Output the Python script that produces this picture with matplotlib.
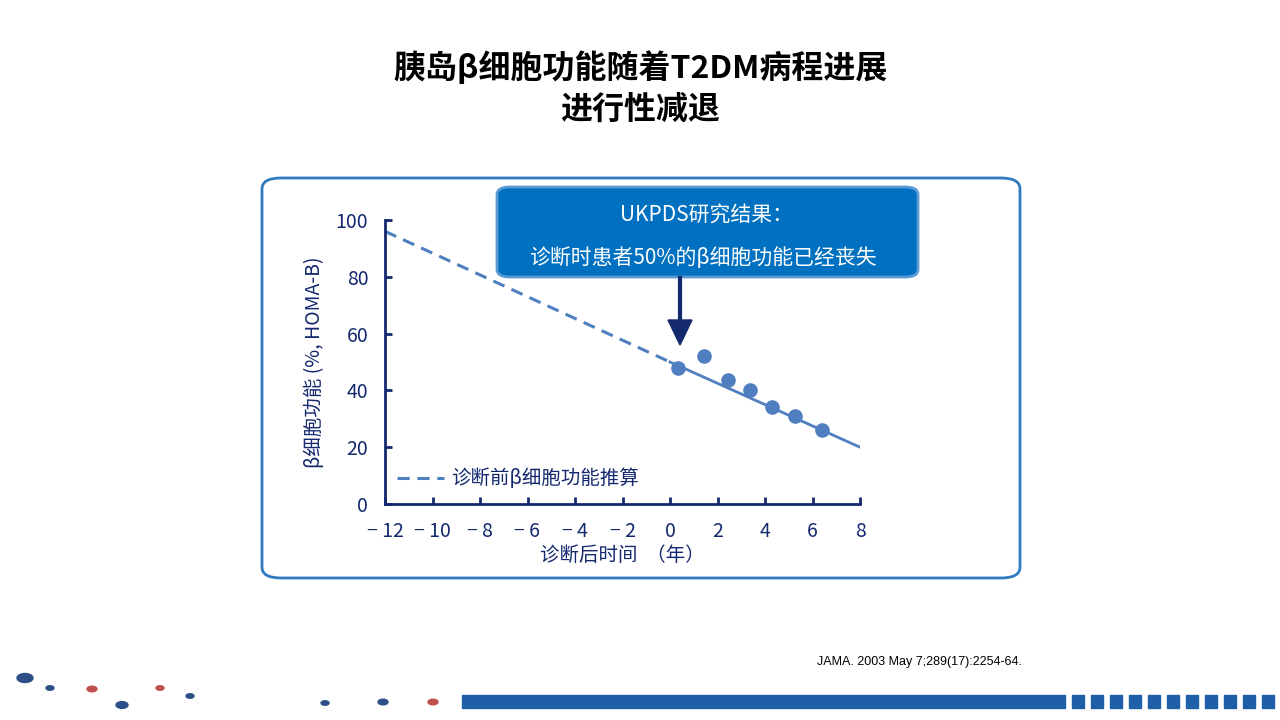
import matplotlib.pyplot as plt
from matplotlib.patches import FancyBboxPatch, Circle, Rectangle

plt.rcParams["font.family"] = ["Noto Sans CJK SC", "DejaVu Sans"]

# data
years = [0.35, 1.45, 2.45, 3.35, 4.3, 5.25, 6.4]
beta_func = [48, 52, 43.5, 40, 34, 31, 26]
fit_x = [0, 8]
fit_y = [50, 20]
pre_x = [-12, 0]
pre_y = [96, 50]
xticks = [-12, -10, -8, -6, -4, -2, 0, 2, 4, 6, 8]
yticks = [0, 20, 40, 60, 80, 100]

NAVY = "#14286e"
PT = "#4f7fbf"

fig = plt.figure(figsize=(12.8, 7.2), dpi=100)
W, H = 1280, 720
def fx(x): return x / W
def fy(y): return 1 - y / H

fig.text(0.5, fy(68), "胰岛β细胞功能随着T2DM病程进展", ha="center", va="center",
         fontsize=23, fontweight="bold")
fig.text(0.5, fy(110), "进行性减退", ha="center", va="center",
         fontsize=23, fontweight="bold")

# outer frame
fig.patches.append(FancyBboxPatch((fx(262), fy(578)), fx(758), 400 / H,
                                  boxstyle="round,pad=0,rounding_size=0.015",
                                  transform=fig.transFigure, fill=False,
                                  edgecolor="#2f7bc0", linewidth=2))

ax = fig.add_axes([fx(385), fy(504), fx(475), 284 / H])
ax.set_xlim(-12, 8)
ax.set_ylim(0, 100)
ax.plot(pre_x, pre_y, linestyle="--", color=PT, linewidth=2.2, dashes=(4, 2.5))
ax.plot(fit_x, fit_y, color=PT, linewidth=2)
ax.scatter(years, beta_func, s=90, color=PT, zorder=3)
ax.set_xticks(xticks)
ax.set_xticklabels([("− " + str(-t)) if t < 0 else str(t) for t in xticks])
ax.set_yticks(yticks)
for s in ["top", "right"]:
    ax.spines[s].set_visible(False)
for s in ["left", "bottom"]:
    ax.spines[s].set_color(NAVY)
    ax.spines[s].set_linewidth(2)
ax.tick_params(colors=NAVY, labelsize=14, width=2, length=5, direction="in", pad=12)
ax.set_xlabel("诊断后时间  （年）", fontsize=14, color=NAVY, labelpad=2)
ax.set_ylabel("β细胞功能 (%, HOMA-B)", fontsize=14, color=NAVY, labelpad=8)
ax.plot([-11.5, -9.5], [9, 9], linestyle="--", color=PT, linewidth=2.2, dashes=(4, 2.5))
ax.text(-9.2, 9, "诊断前β细胞功能推算", fontsize=14, color=NAVY, va="center")

# callout
fig.patches.append(FancyBboxPatch((fx(497), fy(277)), fx(421), 90 / H,
                                  boxstyle="round,pad=0,rounding_size=0.01",
                                  transform=fig.transFigure, facecolor="#0070c0",
                                  edgecolor="#5b9bd5", linewidth=2))
fig.text(fx(707), fy(215), "UKPDS研究结果：", ha="center", va="center",
         fontsize=15, color="white")
fig.text(fx(703), fy(258), "诊断时患者50%的β细胞功能已经丧失", ha="center", va="center",
         fontsize=15, color="white")
fig.add_artist(plt.Line2D([fx(680), fx(680)], [fy(278), fy(325)], color=NAVY,
                          linewidth=3, transform=fig.transFigure))
fig.patches.append(plt.Polygon([[fx(668), fy(320)], [fx(692), fy(320)], [fx(680), fy(345)]],
                               closed=True, transform=fig.transFigure, color=NAVY))

fig.text(fx(817), fy(662), "JAMA. 2003 May 7;289(17):2254-64.", fontsize=9,
         va="center", family="Liberation Sans")

# footer decorations
dots = [(25, 678, 8, "#2b4f86"), (50, 688, 4, "#2b4f86"), (92, 689, 5, "#c0504d"),
        (122, 705, 6, "#2b4f86"), (160, 688, 4, "#c0504d"), (190, 696, 4, "#2b4f86"),
        (325, 703, 4, "#2b4f86"), (383, 702, 5, "#2b4f86"), (433, 702, 5, "#c0504d")]
for x, y, r, c in dots:
    fig.patches.append(Circle((fx(x), fy(y)), r / W, transform=fig.transFigure, color=c))
fig.patches.append(Rectangle((fx(462), fy(708)), fx(603), 13 / H,
                             transform=fig.transFigure, color="#1f5fa8"))
x0 = 1072
while x0 < 1280:
    fig.patches.append(Rectangle((fx(x0), fy(708)), fx(12), 13 / H,
                                 transform=fig.transFigure, color="#1f5fa8"))
    x0 += 19

fig.savefig("out.png", dpi=100)
